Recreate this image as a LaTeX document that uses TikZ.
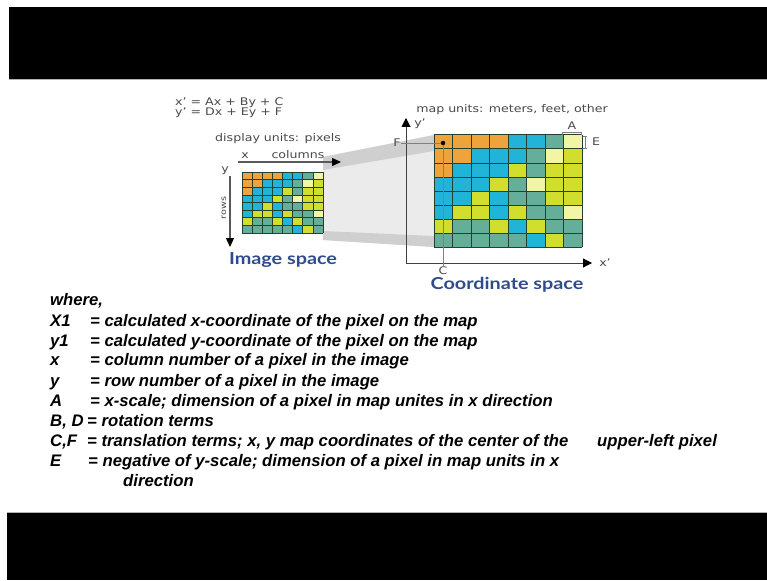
\documentclass[tikz,border=0pt]{standalone}
\usepackage{fontspec}
\setmainfont{Liberation Sans}
\newfontfamily\labfont[FakeStretch=1.2]{DejaVu Sans}
\newfontfamily\titfont[FakeStretch=1.2]{Lato}
\usetikzlibrary{arrows.meta}
\definecolor{cO}{HTML}{EFA33A}
\definecolor{cB}{HTML}{22B4D8}
\definecolor{cT}{HTML}{65AE9A}
\definecolor{cY}{HTML}{D2DE2E}
\definecolor{cL}{HTML}{F3F5A6}
\definecolor{gridc}{HTML}{24402F}
\definecolor{titc}{HTML}{2E4C8C}
\definecolor{labc}{HTML}{4A4A4A}
\definecolor{projlight}{HTML}{EBEBEB}
\definecolor{projdark}{HTML}{CFCFCF}
\newcommand{\pixgrid}[5]{%
 \foreach \rowlist [count=\r] in {{O,O,O,O,B,B,T,L},{O,O,B,B,B,T,L,Y},{O,B,B,B,Y,T,Y,Y},{B,B,B,Y,T,L,Y,Y},{B,B,Y,B,T,T,Y,Y},{B,Y,Y,B,Y,T,T,L},{Y,T,T,Y,B,Y,T,T},{T,T,T,T,T,B,Y,T}}{%
  \foreach \cc [count=\k] in \rowlist {%
   \fill[c\cc] ({#1+(\k-1)*#3},{#2+(\r-1)*#4}) rectangle ++(#3,#4);
  }%
 }%
 \foreach \i in {0,...,8}{%
  \draw[gridc, line width=#5] ({#1+\i*#3},#2) -- ({#1+\i*#3},{#2+8*#4});
  \draw[gridc, line width=#5] (#1,{#2+\i*#4}) -- ({#1+8*#3},{#2+\i*#4});
 }%
}
\begin{document}
\begin{tikzpicture}[x=1pt,y=-1pt,
 lab/.style={font=\labfont\fontsize{10.5}{11}\selectfont, text=labc, inner sep=0pt},
 tit/.style={font=\titfont\bfseries\fontsize{16.5}{18}\selectfont, text=titc, inner sep=0pt},
 body/.style={font=\bfseries\itshape\fontsize{16.7}{20}\selectfont, inner sep=0pt, anchor=base west},
 ax/.style={line width=1pt, draw=black!75, -{Triangle[length=9pt,width=9pt,black]}},
 thinl/.style={draw=gray, line width=0.6pt}]
\useasboundingbox (0,0) rectangle (767,580);
\fill[white] (0,0) rectangle (767,580);
% black bars
\fill[black] (9,7) rectangle (767,79);
\draw[gray!60, line width=1pt] (9,79.5) -- (767,79.5);
\fill[black] (7,513) rectangle (767,580);
\draw[gray!60, line width=1pt] (7,512.5) -- (767,512.5);
% projection
\fill[projlight] (323,157) -- (434,135) -- (434,247) -- (323,240) -- cycle;
\fill[projdark] (323,157) -- (434,135) -- (434,151) -- (323,170) -- cycle;
\fill[projdark] (323,231) -- (434,236) -- (434,247) -- (323,240) -- cycle;
% grids
\pixgrid{242}{172}{10.125}{7.625}{0.6pt}
\pixgrid{434}{135}{18.5}{14}{1pt}
% top labels
\node[lab, anchor=base west] (eq1) at (175,106) {x’ = Ax + By + C};
\node[lab, anchor=base west] (eq2) at (175,116) {y’ = Dx + Ey + F};
\node[lab, anchor=base west] (disp) at (215,142) {display units: pixels};
\node[lab, anchor=base] (mapu) at (512,113) {map units: meters, feet, other};
% image space axes
\coordinate (cst) at (238,162);
\coordinate (cen) at (341,162);
\coordinate (rst) at (230,176);
\coordinate (ren) at (230,247);
\draw[line width=1.4pt, draw=gray!70!black, -{Triangle[length=9pt,width=8pt,black]}] (cst) -- (cen);
\draw[line width=1.4pt, draw=gray!70!black, -{Triangle[length=9pt,width=8pt,black]}] (rst) -- (ren);
\node[lab, anchor=base] (xl) at (245,159) {x};
\node[lab, anchor=base] (coll) at (298,158) {columns};
\node[lab] (yl) at (225,171) {y};
\node[lab, rotate=90, font=\labfont\fontsize{8}{9}\selectfont] (rowl) at (224,208) {rows};
\node[tit] (imgsp) at (283,260) {Image space};
% coordinate space axes
\coordinate (O) at (406,263);
\coordinate (Ytip) at (406,118);
\coordinate (Xtip) at (592,263);
\draw[ax] (O) -- (Ytip);
\draw[ax] (O) -- (Xtip);
\node[lab] (yp) at (420,124) {y’};
\node[lab] (xp) at (605,263) {x’};
\node[circle, fill=black, inner sep=1.6pt] (dot) at (443,143) {};
\node[lab] (Fl) at (397,143) {F};
\node[lab] (Cl) at (443,271) {C};
\node[lab] (Al) at (572,126) {A};
\node[lab] (El) at (596,142) {E};
\draw[thinl] (Fl.east) -- (dot);
\draw[thinl] (Cl.north) -- (dot);
\draw[thinl] (562,135) -- (562,132) -- (581,132) -- (581,135);
\draw[thinl] (583,136) -- (587,136) (585,136) -- (585,148) (583,148) -- (587,148);
\node[tit] (crdsp) at (507,285) {Coordinate space};
% body text
\node[body] (w) at (50,305) {where,};
\node[body] (k1) at (50,326) {X1};
\node[body] (d1) at (90,326) {= calculated x-coordinate of the pixel on the map};
\node[body] (k2) at (50,346) {y1};
\node[body] (d2) at (90,346) {= calculated y-coordinate of the pixel on the map};
\node[body] (k3) at (50,365) {x};
\node[body] (d3) at (90,365) {= column number of a pixel in the image};
\node[body] (k4) at (50,386) {y};
\node[body] (d4) at (90,386) {= row number of a pixel in the image};
\node[body] (k5) at (50,406) {A};
\node[body] (d5) at (90,406) {= x-scale; dimension of a pixel in map unites in x direction};
\node[body] (k6) at (50,426) {B, D};
\node[body] (d6) at (87,426) {= rotation terms};
\node[body] (k7) at (50,446) {C,F};
\node[body] (d7) at (87,446) {= translation terms; x, y map coordinates of the center of the};
\node[body] (d7b) at (597,446) {upper-left pixel};
\node[body] (k8) at (50,466) {E};
\node[body] (d8) at (88,466) {= negative of y-scale; dimension of a pixel in map units in x};
\node[body] (d8b) at (123,486) {direction};
\end{tikzpicture}
\end{document}
